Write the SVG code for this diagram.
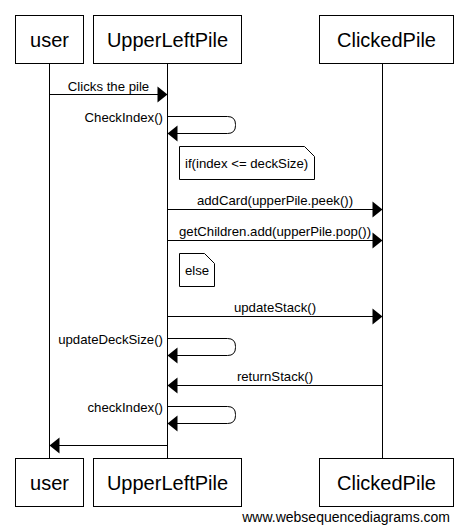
<svg xmlns="http://www.w3.org/2000/svg" width="459" height="531" viewBox="0 0 459 531">
<style>
.box{fill:#fff;stroke:#000;stroke-width:1}
.life{stroke:#000;stroke-width:1}
.title{font-family:"Liberation Sans",Arial,sans-serif;font-size:20px;text-anchor:middle;fill:#000}
.lbl{font-family:"Liberation Sans",Arial,sans-serif;font-size:13.2px;fill:#000}
.msg{stroke:#000;stroke-width:1;fill:none}
.head{fill:#000;stroke:none}
.wm{font-family:"Liberation Sans",Arial,sans-serif;font-size:14px;fill:#000}
</style>
<rect width="459" height="531" fill="#fff"/>
<g id="lifelines">
<line class="life" x1="49.5" y1="64" x2="49.5" y2="458"/>
<line class="life" x1="167.5" y1="64" x2="167.5" y2="458"/>
<line class="life" x1="382.5" y1="64" x2="382.5" y2="458"/>
</g>
<g id="user">
<rect class="box" x="15.5" y="15.5" width="68" height="48"/>
<text class="title" x="49.5" y="46.5">user</text>
<rect class="box" x="15.5" y="458.5" width="68" height="48"/>
<text class="title" x="49.5" y="489.5">user</text>
</g>
<g id="UpperLeftPile">
<rect class="box" x="93.5" y="15.5" width="148" height="48"/>
<text class="title" x="167.5" y="46.5">UpperLeftPile</text>
<rect class="box" x="93.5" y="458.5" width="148" height="48"/>
<text class="title" x="167.5" y="489.5">UpperLeftPile</text>
</g>
<g id="ClickedPile">
<rect class="box" x="319.5" y="15.5" width="134" height="48"/>
<text class="title" x="386.5" y="46.5">ClickedPile</text>
<rect class="box" x="319.5" y="458.5" width="134" height="48"/>
<text class="title" x="386.5" y="489.5">ClickedPile</text>
</g>
<g id="note-if">
<path class="box" d="M179.5,146.5 H304.5 L314.5,156.5 V179.5 H179.5 Z"/>
<text class="lbl" x="185" y="167.5">if(index &lt;= deckSize)</text>
</g>
<g id="note-else">
<path class="box" d="M179.5,253.5 H204.5 L214.5,263.5 V286.5 H179.5 Z"/>
<text class="lbl" x="185" y="274.5">else</text>
</g>
<g id="connectors">
<line class="msg" x1="49.5" y1="94.5" x2="158" y2="94.5"/>
<path class="head" d="M167.5,94.5 L157.5,86.5 L157.5,102.5 Z"/>
<text class="lbl" x="108.5" y="90.5" text-anchor="middle">Clicks the pile</text>

<path class="msg" d="M167.5,116.5 H227.5 Q235.5,116.5 235.5,124.5 V125.5 Q235.5,133.5 227.5,133.5 H177"/>
<path class="head" d="M167.5,133.5 L177.5,125.5 L177.5,141.5 Z"/>
<text class="lbl" x="163" y="121.5" text-anchor="end">CheckIndex()</text>

<line class="msg" x1="167.5" y1="209.5" x2="373" y2="209.5"/>
<path class="head" d="M382.5,209.5 L372.5,201.5 L372.5,217.5 Z"/>
<text class="lbl" x="275" y="205" text-anchor="middle">addCard(upperPile.peek())</text>

<line class="msg" x1="167.5" y1="240.5" x2="373" y2="240.5"/>
<path class="head" d="M382.5,240.5 L372.5,232.5 L372.5,248.5 Z"/>
<text class="lbl" x="275" y="236" text-anchor="middle">getChildren.add(upperPile.pop())</text>

<line class="msg" x1="167.5" y1="316.5" x2="373" y2="316.5"/>
<path class="head" d="M382.5,316.5 L372.5,308.5 L372.5,324.5 Z"/>
<text class="lbl" x="275" y="312" text-anchor="middle">updateStack()</text>

<path class="msg" d="M167.5,338.5 H227.5 Q235.5,338.5 235.5,346.5 V347.5 Q235.5,355.5 227.5,355.5 H177"/>
<path class="head" d="M167.5,355.5 L177.5,347.5 L177.5,363.5 Z"/>
<text class="lbl" x="163" y="343.5" text-anchor="end">updateDeckSize()</text>

<line class="msg" x1="382.5" y1="385.5" x2="177" y2="385.5"/>
<path class="head" d="M167.5,385.5 L177.5,377.5 L177.5,393.5 Z"/>
<text class="lbl" x="275" y="381" text-anchor="middle">returnStack()</text>

<path class="msg" d="M167.5,406.5 H227.5 Q235.5,406.5 235.5,414.5 V415.5 Q235.5,423.5 227.5,423.5 H177"/>
<path class="head" d="M167.5,423.5 L177.5,415.5 L177.5,431.5 Z"/>
<text class="lbl" x="163" y="411.5" text-anchor="end">checkIndex()</text>

<line class="msg" x1="167.5" y1="445.5" x2="59" y2="445.5"/>
<path class="head" d="M49.5,445.5 L59.5,437.5 L59.5,453.5 Z"/>
</g>
<text class="wm" x="450" y="521.5" text-anchor="end">www.websequencediagrams.com</text>
</svg>
